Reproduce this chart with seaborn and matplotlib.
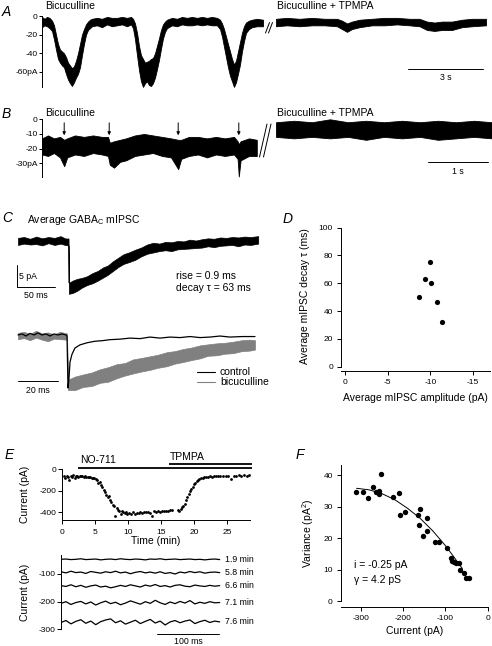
import numpy as np
import pandas as pd
import matplotlib
matplotlib.use("Agg")
import matplotlib.pyplot as plt
import seaborn as sns
from matplotlib.lines import Line2D

# ---------------- DATA ----------------
# Panel A: envelope of the recorded current (s, pA)
A_left_t = [0.00, 0.10, 0.20, 0.30, 0.40, 0.48, 0.56, 0.64, 0.72, 0.80, 0.88, 0.96, 1.04, 1.12, 1.20, 1.28,
            1.36, 1.44, 1.52, 1.60, 1.68, 1.76, 1.84, 1.92, 2.00, 2.20, 2.40, 2.60, 2.80, 3.00, 3.20, 3.40,
            3.56, 3.64, 3.72, 3.80, 3.88, 3.96, 4.04, 4.12, 4.20, 4.28, 4.36, 4.44, 4.52, 4.60, 4.68, 4.76,
            4.84, 4.92, 5.00, 5.20, 5.40, 5.60, 5.80, 6.00, 6.20, 6.40, 6.60, 6.80, 7.00, 7.12, 7.20, 7.28,
            7.36, 7.44, 7.52, 7.60, 7.68, 7.76, 7.84, 7.92, 8.00, 8.08, 8.16, 8.28, 8.40, 8.60, 8.84]
A_left_hi = [-1, -3, -1, -2, -5, -10, -20, -30, -36, -38, -40, -44, -50, -53, -56, -54,
             -48, -40, -30, -20, -14, -9, -6, -4, -3, -2, -3, -1, -2, -2, -1, -2,
             -1, -3, -8, -18, -32, -42, -46, -50, -49, -48, -46, -45, -40, -32, -24, -15,
             -9, -6, -4, -2, -3, -1, -2, -1, -2, -1, -2, -1, -2, -4, -8, -14,
             -22, -30, -38, -46, -52, -48, -38, -28, -18, -11, -7, -5, -4, -3, -4]
A_left_lo = [-12, -10, -11, -13, -16, -25, -36, -46, -50, -53, -55, -62, -68, -72, -75, -71,
             -66, -62, -55, -42, -30, -20, -15, -13, -11, -10, -12, -9, -11, -10, -9, -11,
             -9, -13, -25, -42, -58, -70, -76, -72, -70, -74, -75, -72, -66, -57, -47, -35,
             -24, -17, -13, -10, -11, -9, -10, -10, -9, -10, -9, -10, -10, -14, -22, -33,
             -44, -55, -64, -70, -76, -71, -62, -52, -38, -27, -18, -14, -12, -11, -11]
A_right_t = [9.36, 9.80, 10.30, 10.80, 11.30, 11.80, 12.00, 12.20, 12.40, 12.70, 13.20, 13.70, 14.20,
             14.70, 15.10, 15.40, 15.70, 16.00, 16.40, 16.80, 17.20, 17.76]
A_right_hi = [-3, -2, -3, -2, -3, -3, -5, -8, -6, -4, -3, -2, -2, -3, -3, -6, -7, -6, -6, -4, -3, -3]
A_right_lo = [-11, -10, -11, -10, -10, -11, -14, -17, -14, -12, -10, -10, -9, -10, -11, -15, -16, -15, -15, -12, -11, -10]
A_ticks = [0, -20, -40, -60]
A_ticklabels = ["0", "-20", "-40", "-60pA"]
A_scale_s = 3

# Panel B (s, pA)
B_left_t = [0.00, 0.10, 0.20, 0.30, 0.37, 0.42, 0.55, 0.70, 0.85, 1.00, 1.10, 1.13, 1.20, 1.30, 1.40, 1.55,
            1.70, 1.85, 2.00, 2.15, 2.27, 2.32, 2.45, 2.60, 2.75, 2.90, 3.05, 3.20, 3.26, 3.28, 3.31, 3.45, 3.58]
B_left_hi = [-13, -11, -13, -12, -14, -13, -11, -12, -11, -12, -12, -16, -15, -14, -13, -11,
             -10, -11, -12, -13, -14, -14, -12, -12, -13, -12, -13, -12, -15, -17, -15, -13, -14]
B_left_lo = [-24, -25, -23, -26, -32, -26, -24, -25, -23, -24, -25, -31, -33, -29, -28, -25,
             -24, -23, -25, -26, -34, -27, -25, -24, -26, -24, -25, -24, -27, -39, -28, -25, -25]
B_right_t = [3.90, 4.20, 4.50, 4.80, 5.10, 5.40, 5.70, 6.00, 6.30, 6.60, 6.90, 7.20, 7.50]
B_right_hi = [-2, -1, -2, 0, -2, -1, -2, -1, -2, -1, -2, -1, -2]
B_right_lo = [-12, -13, -12, -13, -12, -14, -12, -13, -12, -14, -13, -12, -13]
B_event_t = [0.37, 1.12, 2.27, 3.28]
B_ticks = [0, -10, -20, -30]
B_ticklabels = ["0", "-10", "-20", "-30pA"]
B_scale_s = 1

# Panel C top: average GABAc mIPSC (ms, pA)
C_top_ms = [0, 8, 16, 24, 32, 40, 48, 56, 62, 66.5, 67.0, 72, 78, 84, 91, 98, 105, 112, 118, 125, 132, 139,
            146, 154, 162, 170, 178, 186, 194, 202, 210, 218, 226, 234, 242, 250, 258, 266, 274, 282, 290,
            298, 306, 316]
C_top_hi = [0.7, 0.9, 0.5, 1.0, 0.6, 0.9, 0.7, 1.1, 0.6, 0.5, -9.5, -9.0, -8.6, -8.4, -8.0, -7.3, -6.8, -6.0,
            -5.6, -4.6, -3.8, -3.0, -2.6, -2.0, -1.5, -0.8, -0.4, -0.6, -0.2, -0.3, 0.0, -0.1, 0.3, 0.1,
            0.4, 0.6, 0.5, 0.8, 0.7, 0.9, 0.8, 1.0, 0.9, 1.1]
C_top_lo = [-0.9, -0.6, -0.8, -0.7, -1.0, -0.5, -0.9, -0.6, -0.9, -1.0, -12.0, -11.8, -11.3, -10.6, -10.0,
            -9.6, -9.0, -8.3, -7.7, -6.8, -5.9, -5.2, -4.8, -4.3, -3.5, -2.9, -2.6, -2.3, -2.1, -2.3, -1.9,
            -1.8, -1.7, -1.6, -1.5, -1.2, -1.4, -1.1, -1.0, -0.9, -1.2, -0.8, -0.9, -0.6]
C_scale_pA = 5
C_scale_ms = 50

# Panel C bottom: normalised currents (ms, fraction of peak)
C_ctrl_ms = [0, 2, 4, 6, 8, 10, 12, 14, 16, 18, 20, 22, 24, 24.5, 25.0, 25.5, 26, 27, 28.5, 31, 34.5, 38.5,
             42, 46, 51, 56, 61, 66, 71, 76, 81, 86, 91, 96, 101, 106, 112, 118.5]
C_ctrl = [0, 0.02, -0.02, 0.03, 0, 0.04, 0, 0.02, -0.02, 0.02, 0, 0.02, 0, -0.02, -1.02, -0.83, -0.52, -0.37,
          -0.25, -0.19, -0.15, -0.12, -0.11, -0.09, -0.08, -0.06, -0.07, -0.04, -0.06, -0.04, -0.05, -0.03,
          -0.05, -0.04, -0.02, -0.04, -0.03, -0.03]
C_bic_ms = [0, 3, 6, 9, 12, 15, 18, 21, 24.5, 25.0, 28.5, 32.5, 37, 41, 45, 49.5, 53.5, 57.5, 62, 66, 70,
            74.5, 78.5, 82.5, 87, 91, 95, 99.5, 103.5, 107.5, 112, 116, 118.5]
C_bic_hi = [0.04, 0.06, 0.02, 0.08, 0.03, 0.05, 0.01, 0.06, 0.03, -0.86, -0.80, -0.76, -0.72, -0.66, -0.62,
            -0.56, -0.54, -0.47, -0.44, -0.41, -0.38, -0.33, -0.31, -0.27, -0.24, -0.20, -0.18, -0.16, -0.15,
            -0.13, -0.10, -0.09, -0.10]
C_bic_lo = [-0.08, -0.06, -0.10, -0.05, -0.09, -0.12, -0.07, -0.08, -0.09, -1.06, -1.06, -1.00, -0.98, -0.92,
            -0.90, -0.83, -0.78, -0.74, -0.70, -0.67, -0.63, -0.60, -0.55, -0.52, -0.48, -0.45, -0.40, -0.39,
            -0.36, -0.35, -0.31, -0.30, -0.28]
C_bot_scale_ms = 20

# Panel D
D_amp = [-9.93, -9.34, -10.05, -8.64, -10.82, -11.4]
D_tau = [75.3, 63.3, 60.2, 50.4, 46.3, 32.2]

# Panel E top: time course (min, pA)
E_t = [0.3, 0.5, 0.7, 0.9, 1.1, 1.3, 1.5, 1.7, 1.9, 2.1, 2.3, 2.5, 2.7, 2.9, 3.1, 3.3, 3.5, 3.7, 3.9, 4.1,
       4.3, 4.5, 4.7, 4.9, 5.1, 5.3, 5.5, 5.7, 5.9, 6.1, 6.3, 6.5, 6.7, 6.9, 7.1, 7.3, 7.5, 7.7, 7.9, 8.1,
       8.3, 8.5, 8.7, 8.9, 9.1, 9.3, 9.5, 9.7, 9.9, 10.1, 10.4, 10.7, 11.0, 11.3, 11.6, 11.9, 12.2, 12.5,
       12.8, 13.1, 13.4, 13.7, 14.0, 14.3, 14.6, 14.9, 15.2, 15.5, 15.8, 16.1, 16.4, 16.7,
       17.6, 17.8, 18.0, 18.2, 18.4, 18.6, 18.8, 19.0, 19.2, 19.4, 19.6, 19.8, 20.0, 20.2, 20.4, 20.6, 20.8,
       21.0, 21.3, 21.6, 21.9, 22.2, 22.5, 22.8, 23.1, 23.4, 23.7, 24.0, 24.4, 24.8, 25.2, 25.6, 26.0, 26.4,
       26.8, 27.2, 27.6, 28.0, 28.4]
E_I = [-62, -85, -58, -70, -95, -60, -72, -55, -78, -63, -60, -75, -58, -66, -62, -70, -64, -72, -68, -76,
       -70, -80, -85, -78, -92, -100, -130, -118, -150, -165, -190, -210, -235, -260, -250, -290, -300, -330,
       -345, -430, -360, -375, -385, -420, -392, -400, -410, -395, -415, -405, -420, -398, -412, -402, -405,
       -396, -408, -398, -400, -395, -402, -430, -392, -398, -390, -394, -388, -392, -385, -388, -382, -380,
       -375, -385, -368, -355, -340, -320, -290, -260, -230, -205, -180, -160, -140, -125, -112, -100, -92,
       -85, -80, -75, -70, -72, -66, -68, -62, -65, -60, -63, -58, -62, -60, -90, -58, -62, -56, -60, -55,
       -58, -56]
E_drug_names = ["NO-711", "TPMPA"]
E_drug_on = [2.4, 16.2]
E_drug_off = [28.8, 28.8]

# Panel E bottom: current traces (ms, pA)
E_trace_ms = [0, 8, 16, 24, 32, 40, 48, 56, 64, 72, 80, 88, 96, 104, 112, 120, 128, 136, 144, 152, 160,
              168, 176, 184, 192, 200, 208, 216, 224, 232, 240, 248, 256]
E_trace_labels = ["1.9 min", "5.8 min", "6.6 min", "7.1 min", "7.6 min"]
E_tr_19 = [-47, -46, -48, -47, -45, -48, -47, -46, -49, -47, -46, -48, -45, -47, -48, -46, -47, -49, -46,
           -47, -45, -48, -47, -46, -48, -47, -46, -48, -47, -49, -47, -46, -48]
E_tr_58 = [-92, -96, -90, -95, -93, -98, -91, -94, -97, -92, -95, -90, -96, -93, -99, -94, -91, -96, -93,
           -97, -92, -98, -95, -100, -93, -96, -91, -95, -92, -97, -94, -93, -95]
E_tr_66 = [-142, -145, -139, -146, -141, -148, -143, -140, -147, -144, -150, -146, -141, -145, -139, -143,
           -147, -140, -144, -138, -145, -142, -147, -141, -139, -144, -146, -140, -143, -145, -141, -144, -142]
E_tr_71 = [-206, -200, -210, -203, -199, -208, -201, -212, -204, -198, -207, -202, -211, -205, -197, -203,
           -209, -200, -206, -195, -204, -210, -201, -207, -199, -205, -196, -208, -202, -206, -200, -204, -203]
E_tr_76 = [-275, -268, -280, -271, -265, -278, -270, -283, -272, -266, -262, -276, -269, -281, -274, -267,
           -279, -271, -264, -277, -270, -284, -273, -268, -276, -270, -266, -279, -272, -267, -275, -270, -273]
E_label_pA = [-47, -94, -143, -204, -273]
E_scale_ms = 100

# Panel F: variance vs current
F_I = [-311, -295.6, -283.7, -271.9, -264, -257, -256.3, -251.5, -224.6, -209.7, -207.3, -196.2, -165.5,
       -162.4, -159.3, -152.2, -142.8, -142.8, -123.9, -115.8, -95.5, -86.8, -83.7, -79.7, -74.9, -67.1,
       -65.5, -56, -51.3, -45]
F_var = [34.5, 34.6, 32.6, 36.3, 34.7, 34.9, 34.0, 40.3, 33.1, 34.2, 27.3, 28.3, 27.2, 24.0, 29.1, 20.6,
         26.4, 22.2, 18.8, 18.8, 16.9, 13.6, 12.8, 12.3, 12.0, 12.0, 9.8, 8.8, 7.4, 7.2]
F_fit_I = [-310, -280, -250, -220, -190, -160, -130, -100, -80, -60]
F_fit_var = [35.8, 35.3, 34.1, 32.2, 29.5, 26.3, 22.3, 17.6, 14.0, 10.3]

# ---------------- STYLE ----------------
sns.set_theme(style="ticks")
plt.rcParams.update({
    "font.family": ["Liberation Sans", "DejaVu Sans"],
    "mathtext.fontset": "custom",
    "mathtext.rm": "Liberation Sans",
    "mathtext.it": "Liberation Sans:italic",
    "mathtext.bf": "Liberation Sans:bold",
    "axes.unicode_minus": False,
    "axes.linewidth": 0.7,
    "axes.edgecolor": "black",
    "axes.labelcolor": "black",
    "text.color": "black",
    "xtick.color": "black",
    "ytick.color": "black",
    "xtick.major.width": 0.7,
    "ytick.major.width": 0.7,
    "xtick.major.size": 3,
    "ytick.major.size": 3,
    "xtick.labelsize": 6,
    "ytick.labelsize": 6,
    "axes.labelsize": 7.5,
    "axes.grid": False,
})

W, H = 492, 646
fig = plt.figure(figsize=(W / 100, H / 100), dpi=100)
fig.patch.set_facecolor("white")


def add_ax(l, t, r, b):
    ax = fig.add_axes([l / W, 1 - b / H, (r - l) / W, (b - t) / H])
    ax.set_facecolor("none")
    return ax


def ftext(x, y, s, **kw):
    kw.setdefault("va", "center")
    fig.text(x / W, 1 - y / H, s, **kw)


def fline(xs, ys, **kw):
    fig.add_artist(Line2D([x / W for x in xs], [1 - y / H for y in ys],
                          transform=fig.transFigure, **kw))


def only_left(ax):
    for s in ["top", "right", "bottom"]:
        ax.spines[s].set_visible(False)
    ax.set_xticks([])


def no_spines(ax):
    for s in ["top", "right", "bottom", "left"]:
        ax.spines[s].set_visible(False)
    ax.set_xticks([])
    ax.set_yticks([])


FS = 7.5
SMALL = 6.3
LET = dict(fontsize=10, fontstyle="italic")

# ---------------- PANEL A ----------------
axA = add_ax(42, 10, 490, 90)
axA.fill_between(A_left_t, A_left_hi, A_left_lo, color="black", lw=0.6)
axA.fill_between(A_right_t, A_right_hi, A_right_lo, color="black", lw=0.6)
axA.set_xlim(0, 17.92)
axA.set_ylim(-79.3, 6.43)
only_left(axA)
axA.spines["left"].set_bounds(-75.7, 0)
axA.set_yticks(A_ticks)
axA.set_yticklabels(A_ticklabels)
axA.tick_params(axis="y", length=2.3, pad=0.8)
axA.plot([14.64, 14.64 + A_scale_s], [-56.8, -56.8], color="black", lw=0.7)
axA.text(14.64 + A_scale_s / 2, -65.4, f"{A_scale_s} s", ha="center", va="center", fontsize=SMALL)
fline([265.5, 269.5], [33, 22.5], color="black", lw=0.7)
fline([268.5, 272.5], [33, 22.5], color="black", lw=0.7)
ftext(2, 12.5, "A", **LET)
ftext(45, 6, "Bicuculline", fontsize=FS)
ftext(277, 6, "Bicuculline + TPMPA", fontsize=FS)

# ---------------- PANEL B ----------------
axB = add_ax(42, 105, 492, 180)
axB.fill_between(B_left_t, B_left_hi, B_left_lo, color="black", lw=0.6)
axB.fill_between(B_right_t, B_right_hi, B_right_lo, color="black", lw=0.6)
axB.set_xlim(0, 7.5)
axB.set_ylim(-41.4, 9.75)
only_left(axB)
axB.spines["left"].set_bounds(-39.3, 0)
axB.set_yticks(B_ticks)
axB.set_yticklabels(B_ticklabels)
axB.tick_params(axis="y", length=2.3, pad=0.8)
for t in B_event_t:
    axB.annotate("", xy=(t, -10.9), xytext=(t, -2.4),
                 arrowprops=dict(arrowstyle="-|>", lw=0.7, color="black", shrinkA=0, shrinkB=0,
                                 mutation_scale=4.5))
axB.plot([6.43, 6.43 + B_scale_s], [-29.1, -29.1], color="black", lw=0.7)
axB.text(6.43 + B_scale_s / 2, -35.9, f"{B_scale_s} s", ha="center", va="center", fontsize=SMALL)
fline([259.5, 267], [157, 124], color="black", lw=0.7)
fline([263.5, 271], [157, 124], color="black", lw=0.7)
ftext(2, 114, "B", **LET)
ftext(45, 113, "Bicuculline", fontsize=FS)
ftext(277, 113, "Bicuculline + TPMPA", fontsize=FS)

# ---------------- PANEL C top ----------------
axC = add_ax(10, 228, 262, 302)
axC.fill_between(C_top_ms, C_top_hi, C_top_lo, color="black", lw=0.5)
axC.plot([C_top_ms[9], C_top_ms[10]], [C_top_hi[9], C_top_hi[10]], color="black", lw=0.6)
axC.set_xlim(-10.5, 321)
axC.set_ylim(-13.86, 2.95)
no_spines(axC)
axC.plot([-1.3, -1.3, -1.3 + C_scale_ms], [-10.45 + C_scale_pA, -10.45, -10.45], color="black", lw=0.7)
axC.text(1.5, -10.45 + C_scale_pA / 2 - 0.2, f"{C_scale_pA} pA", ha="left", va="center", fontsize=SMALL)
axC.text(-1.3 + C_scale_ms / 2, -12.4, f"{C_scale_ms} ms", ha="center", va="center", fontsize=SMALL)
ftext(2, 218, "C", **LET)
ftext(27, 220, r"Average GABA$_{\mathrm{C}}$ mIPSC", fontsize=FS)
ftext(176, 276, "rise = 0.9 ms", fontsize=FS)
ftext(176, 288, "decay τ = 63 ms", fontsize=FS)

# ---------------- PANEL C bottom ----------------
axC2 = add_ax(10, 325, 262, 395)
axC2.fill_between(C_bic_ms, C_bic_hi, C_bic_lo, color="#808080", lw=0.5)
sns.lineplot(x=C_ctrl_ms, y=C_ctrl, ax=axC2, color="black", lw=0.9, sort=False, estimator=None, legend=False)
axC2.set_xlim(-4, 122)
axC2.set_ylim(-1.154, 0.192)
no_spines(axC2)
axC2.plot([0, C_bot_scale_ms], [-0.885, -0.885], color="black", lw=0.7)
axC2.text(C_bot_scale_ms / 2, -1.06, f"{C_bot_scale_ms} ms", ha="center", va="center", fontsize=SMALL)
fline([197, 215], [372, 372], color="black", lw=0.8)
fline([197, 215], [382, 382], color="#808080", lw=0.8)
ftext(220, 372, "control", fontsize=FS)
ftext(220, 382, "bicuculline", fontsize=FS)

# ---------------- PANEL D ----------------
axD = add_ax(341, 226, 490, 366.7)
sns.scatterplot(x=D_amp, y=D_tau, ax=axD, color="black", s=14, linewidth=0, legend=False)
axD.set_xlim(0.47, -17.0)
axD.set_ylim(0, 101.2)
axD.spines["top"].set_visible(False)
axD.spines["right"].set_visible(False)
axD.spines["bottom"].set_position(("outward", 2.9))
axD.spines["left"].set_bounds(0, 100)
axD.set_xticks([0, -5, -10, -15])
axD.set_xticklabels(["0", "-5", "-10", "-15"])
axD.set_yticks([0, 20, 40, 60, 80, 100])
axD.tick_params(axis="both", length=3.2, pad=2.5)
axD.set_xlabel("Average mIPSC amplitude (pA)", fontsize=FS)
axD.set_ylabel("Average mIPSC decay τ (ms)", fontsize=FS)
axD.xaxis.set_label_coords(0.5, -0.185)
axD.yaxis.set_label_coords(-0.205, 0.5)
ftext(283, 219, "D", **LET)

# ---------------- PANEL E top ----------------
axE = add_ax(62, 462, 250, 520)
sns.scatterplot(x=E_t, y=E_I, ax=axE, color="black", s=4, linewidth=0, legend=False)
axE.set_xlim(0, 28.5)
axE.set_ylim(-471.6, 67.9)
axE.spines["top"].set_visible(False)
axE.spines["right"].set_visible(False)
axE.spines["left"].set_bounds(-471.6, 0)
axE.set_xticks([0, 5, 10, 15, 20, 25])
axE.set_yticks([0, -200, -400])
axE.set_yticklabels(["0", "-200", "-400"])
axE.tick_params(axis="y", length=3, pad=0.8)
axE.tick_params(axis="x", length=3, pad=3.5)
axE.set_xlabel("Time (min)", fontsize=FS)
axE.set_ylabel("Current (pA)", fontsize=FS)
axE.xaxis.set_label_coords(0.5, -0.27)
axE.yaxis.set_label_coords(-0.17, 0.45)
drug_y = [15, 46]
for name, on, off, yy in zip(E_drug_names, E_drug_on, E_drug_off, drug_y):
    axE.plot([on, off], [yy, yy], color="black", lw=1.3, clip_on=False, solid_capstyle="butt")
ftext(80, 460, E_drug_names[0], fontsize=FS)
ftext(170, 457, E_drug_names[1], fontsize=FS)
ftext(5, 455, "E", **LET)

# ---------------- PANEL E bottom ----------------
axE2 = add_ax(61, 552, 222, 632)
for tr in [E_tr_19, E_tr_58, E_tr_66, E_tr_71, E_tr_76]:
    sns.lineplot(x=E_trace_ms, y=tr, ax=axE2, color="black", lw=0.9, sort=False, estimator=None, legend=False)
axE2.set_xlim(0, 259.7)
axE2.set_ylim(-309.4, -20.6)
only_left(axE2)
axE2.spines["left"].set_bounds(-300, -31)
axE2.set_yticks([-100, -200, -300])
axE2.set_yticklabels(["-100", "-200", "-300"])
axE2.tick_params(axis="y", length=3, pad=0.8)
axE2.set_ylabel("Current (pA)", fontsize=FS)
axE2.yaxis.set_label_coords(-0.19, 0.5)
for lab, yv in zip(E_trace_labels, E_label_pA):
    axE2.text(264.5, yv, lab, ha="left", va="center", fontsize=SMALL, clip_on=False)
axE2.plot([155, 155 + E_scale_ms], [-317.7, -317.7], color="black", lw=0.7, clip_on=False)
ftext(188, 641, f"{E_scale_ms} ms", ha="center", fontsize=SMALL)

# ---------------- PANEL F ----------------
axF = add_ax(340.7, 465, 487.7, 601)
sns.scatterplot(x=F_I, y=F_var, ax=axF, color="black", s=15, linewidth=0, legend=False)
sns.lineplot(x=F_fit_I, y=F_fit_var, ax=axF, color="black", lw=0.7, sort=False, estimator=None, legend=False)
axF.set_xlim(-347.5, 0)
axF.set_ylim(0, 43.2)
axF.spines["top"].set_visible(False)
axF.spines["right"].set_visible(False)
axF.spines["bottom"].set_position(("outward", 4.1))
axF.set_xticks([-300, -200, -100, 0])
axF.set_xticklabels(["-300", "-200", "-100", "0"])
axF.set_yticks([0, 10, 20, 30, 40])
axF.tick_params(axis="both", length=3.2, pad=2.5)
axF.set_xlabel("Current (pA)", fontsize=FS)
axF.set_ylabel(r"Variance (pA$^{2}$)", fontsize=FS)
axF.xaxis.set_label_coords(0.5, -0.185)
axF.yaxis.set_label_coords(-0.165, 0.5)
ftext(354, 565, "i = -0.25 pA", fontsize=FS)
ftext(354, 580, "γ = 4.2 pS", fontsize=FS)
ftext(296, 455, "F", **LET)

fig.savefig("out.png", dpi=100, facecolor="white")
